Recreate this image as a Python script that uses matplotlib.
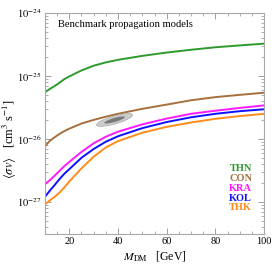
import matplotlib
matplotlib.use("Agg")
import matplotlib.pyplot as plt
import numpy as np
from matplotlib.ticker import MultipleLocator, FixedLocator, LogLocator, NullFormatter

plt.rcParams["font.family"] = ["Liberation Serif", "DejaVu Serif"]
plt.rcParams["mathtext.fontset"] = "stix"

# ---------------------------------------------------------------------------
# Daten
# ---------------------------------------------------------------------------
mass = [10, 12, 14, 16, 18, 20, 25, 30, 35, 40, 50, 60, 70, 80, 90, 100]

sv_thn = [5.5e-26, 6.2e-26, 6.9e-26, 7.8e-26, 8.9e-26, 9.8e-26, 1.22e-25, 1.45e-25,
          1.64e-25, 1.8e-25, 2.08e-25, 2.35e-25, 2.6e-25, 2.85e-25, 3.05e-25, 3.25e-25]
sv_con = [7.6e-27, 9.3e-27, 1.06e-26, 1.2e-26, 1.33e-26, 1.45e-26, 1.75e-26, 2.0e-26,
          2.25e-26, 2.5e-26, 3.0e-26, 3.5e-26, 4.1e-26, 4.6e-26, 5.0e-26, 5.4e-26]
sv_kra = [1.9e-27, 2.2e-27, 2.6e-27, 3.1e-27, 3.7e-27, 4.3e-27, 6.2e-27, 8.5e-27,
          1.08e-26, 1.3e-26, 1.7e-26, 2.1e-26, 2.5e-26, 2.8e-26, 3.1e-26, 3.4e-26]
sv_kol = [1.2e-27, 1.5e-27, 1.85e-27, 2.3e-27, 2.8e-27, 3.3e-27, 5.0e-27, 6.9e-27,
          9.0e-27, 1.1e-26, 1.48e-26, 1.85e-26, 2.2e-26, 2.5e-26, 2.75e-26, 2.95e-26]
sv_thk = [9.1e-28, 1.05e-27, 1.2e-27, 1.4e-27, 1.7e-27, 2.1e-27, 3.4e-27, 5.2e-27,
          7.3e-27, 9.2e-27, 1.25e-26, 1.55e-26, 1.82e-26, 2.08e-26, 2.3e-26, 2.5e-26]

models = ["THN", "CON", "KRA", "KOL", "THK"]
series = [sv_thn, sv_con, sv_kra, sv_kol, sv_thk]
colors = ["#2e9a2e", "#a6703c", "#ff1aff", "#1010ff", "#ff8c1a"]

y_major = [1e-27, 1e-26, 1e-25, 1e-24]

# Fit-Region (Ellipse in M / log10(sigma v)): Zentrum, Halbachsen-Vektoren
fit_center = (38.6, -25.70)
fit_outer = ((7.4, 0.082), (-0.45, 0.06))
fit_inner = ((4.2, 0.047), (-0.25, 0.03))

# ---------------------------------------------------------------------------
# Plot
# ---------------------------------------------------------------------------
fig = plt.figure(figsize=(2.74, 2.64), dpi=100)
ax = fig.add_axes([0.164, 0.114, 0.80, 0.837])

for sv, c in zip(series, colors):
    ax.plot(mass, sv, color=c, lw=1.4, solid_capstyle="round")


def _ellipse(center, axes_vec):
    t = np.linspace(0, 2 * np.pi, 100)
    (ux, uy), (vx, vy) = axes_vec
    m = center[0] + ux * np.cos(t) + vx * np.sin(t)
    lg = center[1] + uy * np.cos(t) + vy * np.sin(t)
    return m, 10 ** lg


ax.fill(*_ellipse(fit_center, fit_outer), fc="#cccccc", ec="#a8a8a8", lw=0.5, zorder=3)
ax.fill(*_ellipse(fit_center, fit_inner), fc="#7a7a7a", ec="none", zorder=4)

ax.set_yscale("log")
ax.set_xlim(10, 100)
ax.set_ylim(10 ** -27.51, 1e-24)

ax.xaxis.set_major_locator(MultipleLocator(20))
ax.xaxis.set_minor_locator(MultipleLocator(5))
ax.yaxis.set_major_locator(FixedLocator(y_major))
ax.yaxis.set_minor_locator(LogLocator(base=10, subs=np.arange(2, 10), numticks=20))
ax.yaxis.set_minor_formatter(NullFormatter())
ax.set_yticklabels([r"$10^{%d}$" % int(round(np.log10(v))) for v in y_major])

ax.tick_params(which="both", direction="in", top=True, right=True,
               color="#909090", labelsize=7.5, pad=2.5)
ax.tick_params(which="major", length=4.5, width=0.6)
ax.tick_params(which="minor", length=2.4, width=0.5)
for sp in ax.spines.values():
    sp.set_color("#a8a8a8")
    sp.set_linewidth(0.8)

ax.set_xlabel(r"$M_{\rm DM}$   [GeV]", fontsize=8.5, labelpad=2)
fig.text(10 / 274, 1 - 139 / 264, r"$\langle\sigma v\rangle$   [cm$^3$ s$^{-1}$]",
         fontsize=9, rotation=90, ha="center", va="center")

ax.text(0.06, 0.948, "Benchmark propagation models", transform=ax.transAxes,
        fontsize=7.6, ha="left", va="center")

for i, (name, c) in enumerate(zip(models, colors)):
    ax.text(0.945, 0.294 - i * 0.044, name, transform=ax.transAxes, color=c,
            fontsize=7.5, fontweight="bold", ha="right", va="center")

fig.savefig("out.png", dpi=100)
